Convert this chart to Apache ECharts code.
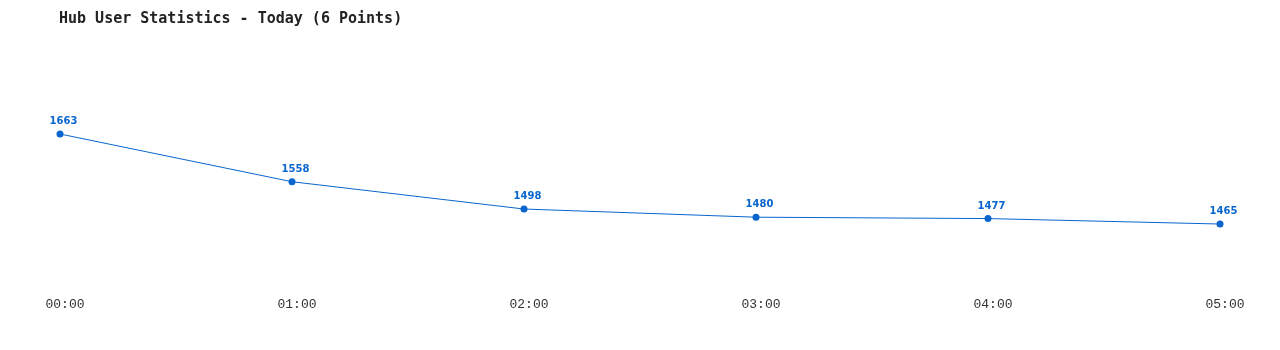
<!DOCTYPE html>
<html>
<head>
<meta charset="utf-8">
<script src="https://cdn.jsdelivr.net/npm/echarts@6/dist/echarts.min.js"></script>
<style>
html,body{margin:0;padding:0;background:#fff;}
#chart{width:1280px;height:350px;}
</style>
</head>
<body>
<div id="chart"></div>
<script>
var titleText = 'Hub User Statistics - Today (6 Points)';
var categories = ['00:00', '01:00', '02:00', '03:00', '04:00', '05:00'];
var userCounts = [1663, 1558, 1498, 1480, 1477, 1465];

var chart = echarts.init(document.getElementById('chart'), null, {renderer: 'canvas'});
chart.setOption({
  animation: false,
  backgroundColor: '#ffffff',
  title: {
    text: titleText,
    left: 59,
    top: 12,
    padding: 0,
    textStyle: {
      fontFamily: 'DejaVu Sans Mono',
      fontSize: 15,
      fontWeight: 'bold',
      color: '#222222'
    }
  },
  grid: {left: 60, right: 60, top: 49, bottom: 73.7, containLabel: false},
  xAxis: {
    type: 'category',
    data: categories,
    boundaryGap: false,
    axisLine: {show: false},
    axisTick: {show: false},
    splitLine: {show: false},
    axisLabel: {
      margin: 22,
      padding: [0, 0, 0, 10],
      fontFamily: 'Liberation Mono',
      fontSize: 13,
      color: '#333333'
    }
  },
  yAxis: {
    type: 'value',
    min: 1350,
    max: 1850,
    show: false
  },
  series: [{
    type: 'line',
    data: userCounts,
    symbol: 'circle',
    symbolSize: 7,
    lineStyle: {color: '#0a66cc', width: 1},
    itemStyle: {color: '#0a66cc'},
    label: {
      show: true,
      position: 'top',
      distance: 4,
      offset: [3.5, 0],
      fontFamily: 'DejaVu Sans',
      fontWeight: 'bold',
      fontSize: 10,
      color: '#0a66cc'
    }
  }]
});
</script>
</body>
</html>
